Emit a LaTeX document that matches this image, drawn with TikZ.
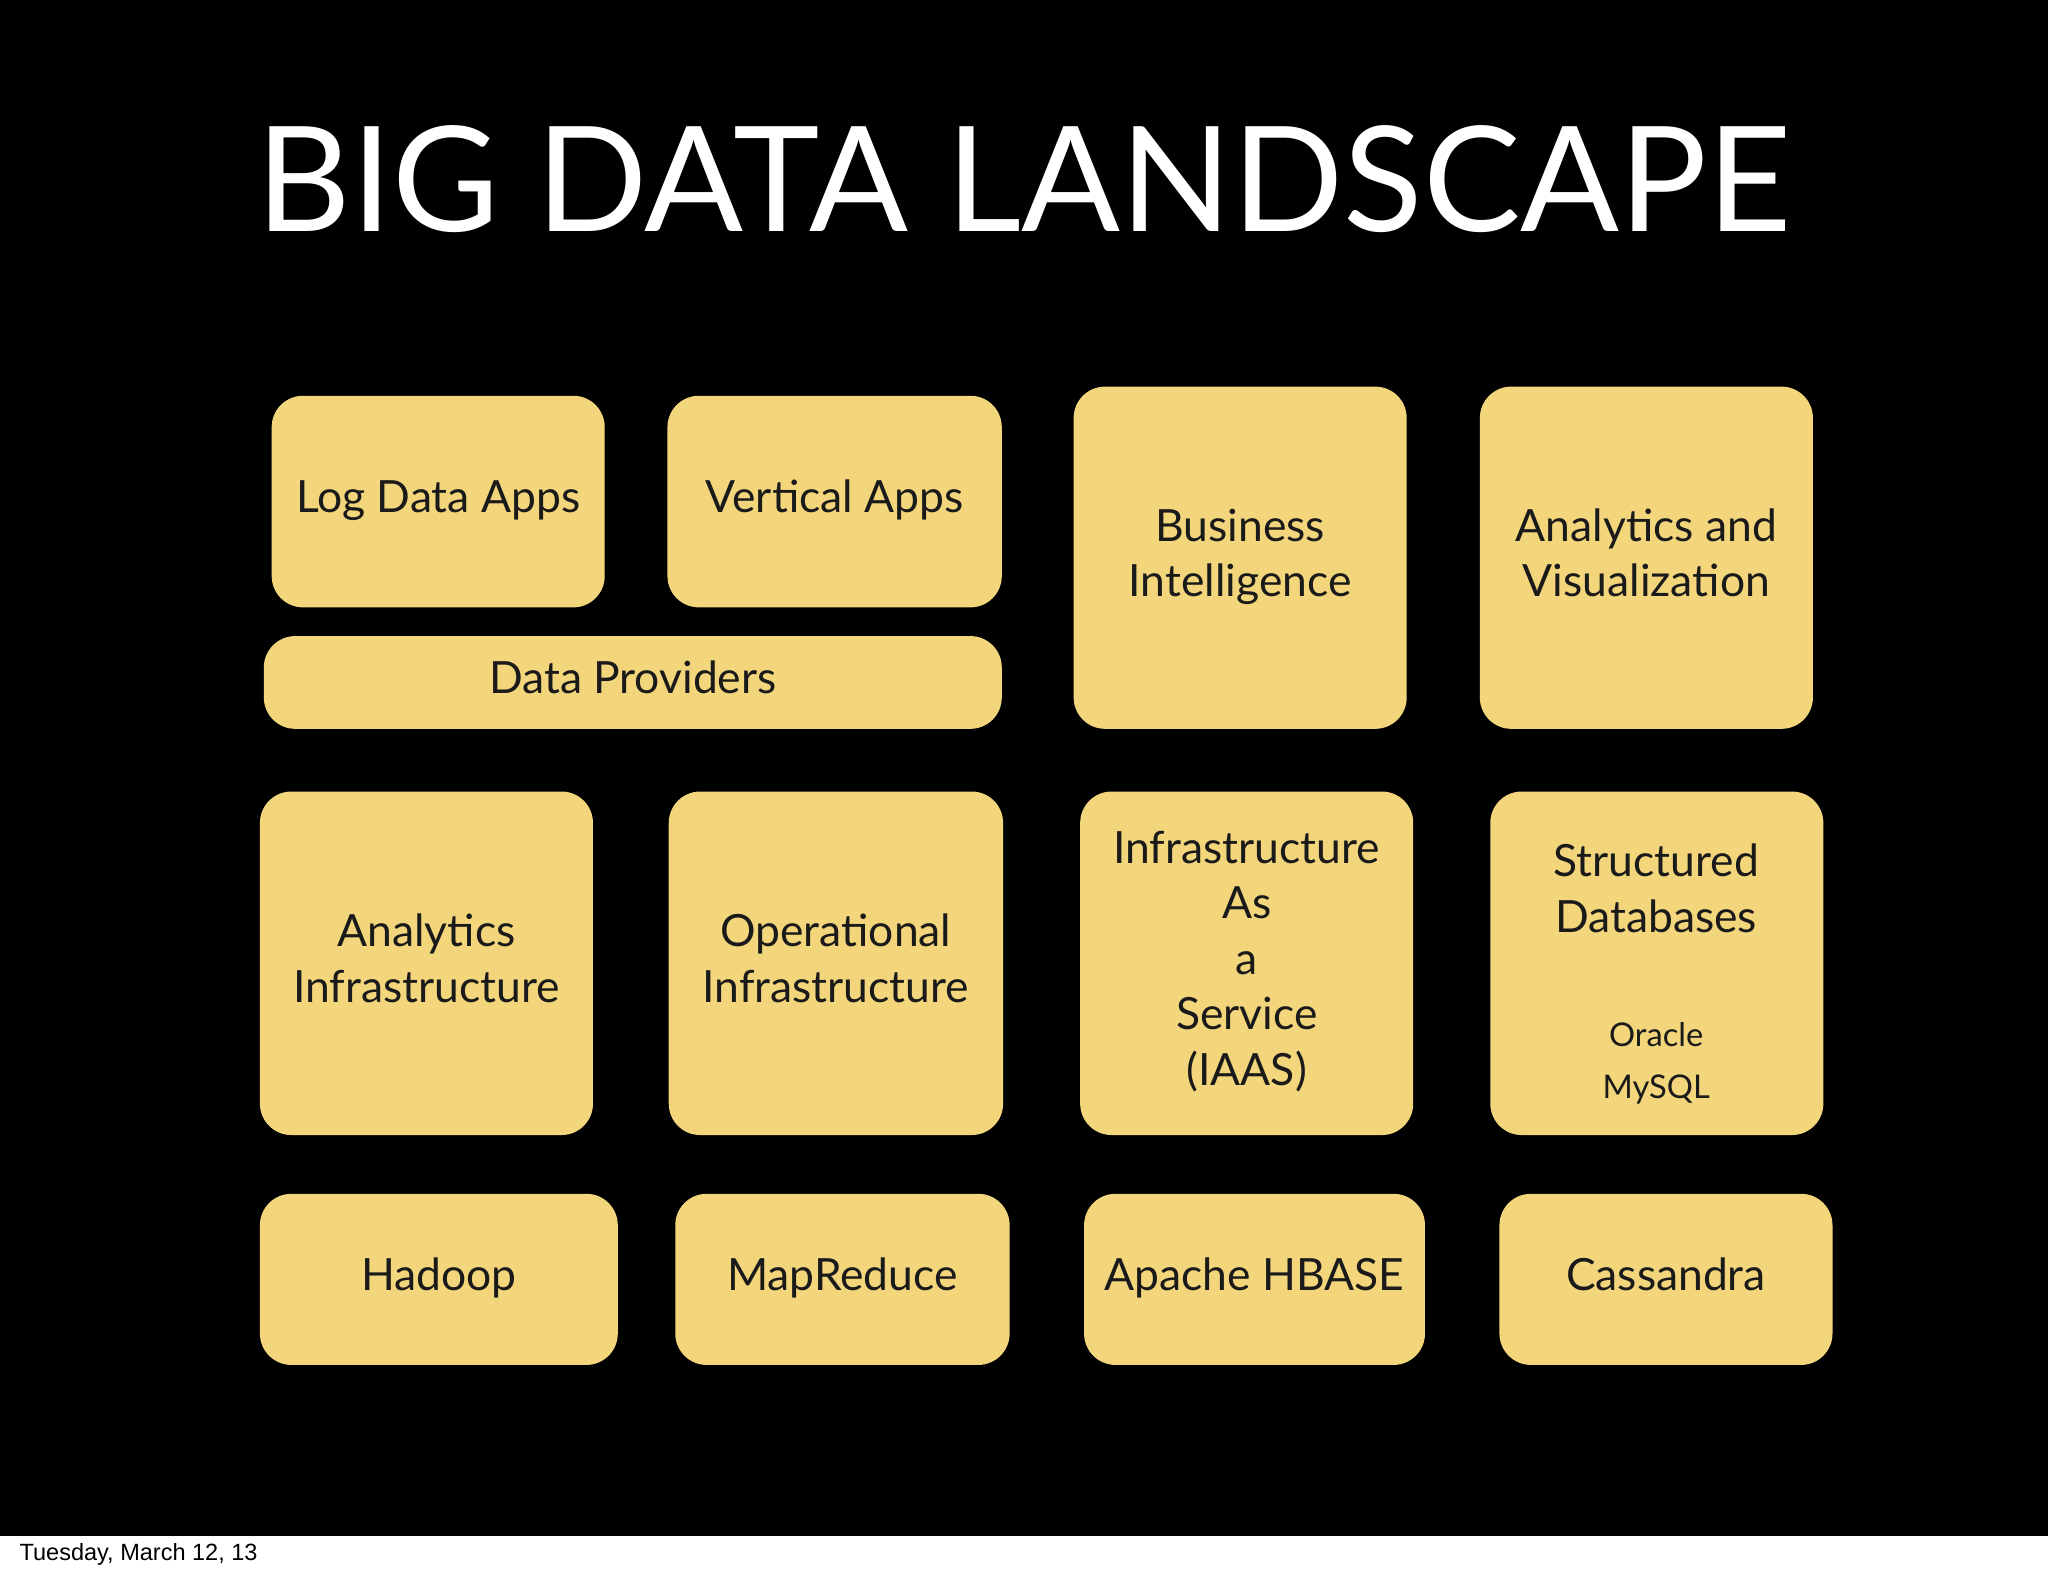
\documentclass[tikz,border=0pt]{standalone}
\usepackage{fontspec}
\setmainfont{Lato}
\newfontfamily\arialf{Liberation Sans}
\definecolor{ylw}{HTML}{F3D67C}
\definecolor{txt}{HTML}{1A1A1A}
\newcommand\ybox[7][17pt]{%
  \node[ybox, font=\fontsize{#1}{1.25\dimexpr#1\relax}\selectfont,
    minimum width={(#5-#3)*0.5pt}, minimum height={(#6-#4)*0.5pt}]
    (#2) at ({(#3+#5)/2},{(#4+#6)/2}) {\raisebox{-2pt}{\begin{tabular}{@{}c@{}}#7\end{tabular}}};}
\begin{document}
\begin{tikzpicture}[x=0.5pt,y=-0.5pt,
  ybox/.style={fill=ylw, rounded corners=12pt, inner sep=0pt, outer sep=0pt,
    align=center, text=txt}]
\fill[white] (0,0) rectangle (1568,1206);
\fill[black] (0,0) rectangle (1568,1176);
\node[white, font=\fontsize{56pt}{64pt}\selectfont] (title) at (784,137) {BIG DATA LANDSCAPE};
\ybox{logd}{208}{303}{463}{465}{Log Data Apps}
\ybox{vert}{511}{303}{767}{465}{Vertical Apps}
\ybox{prov}{202}{487}{767}{558}{Data Providers}
\ybox{bi}{822}{296}{1077}{558}{Business\\Intelligence}
\ybox{av}{1133}{296}{1388}{558}{Analytics and\\Visualization}
\ybox{ai}{199}{606}{454}{869}{Analytics\\Infrastructure}
\ybox{oi}{512}{606}{768}{869}{Operational\\Infrastructure}
\ybox{iaas}{827}{606}{1082}{869}{Infrastructure\\As\\a\\Service\\(IAAS)}
\ybox{sd}{1141}{606}{1396}{869}{}
\node[text=txt, font=\fontsize{17pt}{21.5pt}\selectfont, align=center] (sdt) at (1268,680) {Structured\\Databases};
\node[text=txt, font=\fontsize{12.5pt}{20pt}\selectfont, align=center] (sdl) at (1268,814) {Oracle\\MySQL};
\ybox{had}{199}{914}{473}{1045}{Hadoop}
\ybox{mr}{517}{914}{773}{1045}{MapReduce}
\ybox{hb}{830}{914}{1091}{1045}{Apache HBASE}
\ybox{cas}{1148}{914}{1403}{1045}{Cassandra}
\node[anchor=west, font=\arialf\fontsize{9pt}{10pt}\selectfont] (date) at (8,1190) {Tuesday, March 12, 13};
\end{tikzpicture}
\end{document}
